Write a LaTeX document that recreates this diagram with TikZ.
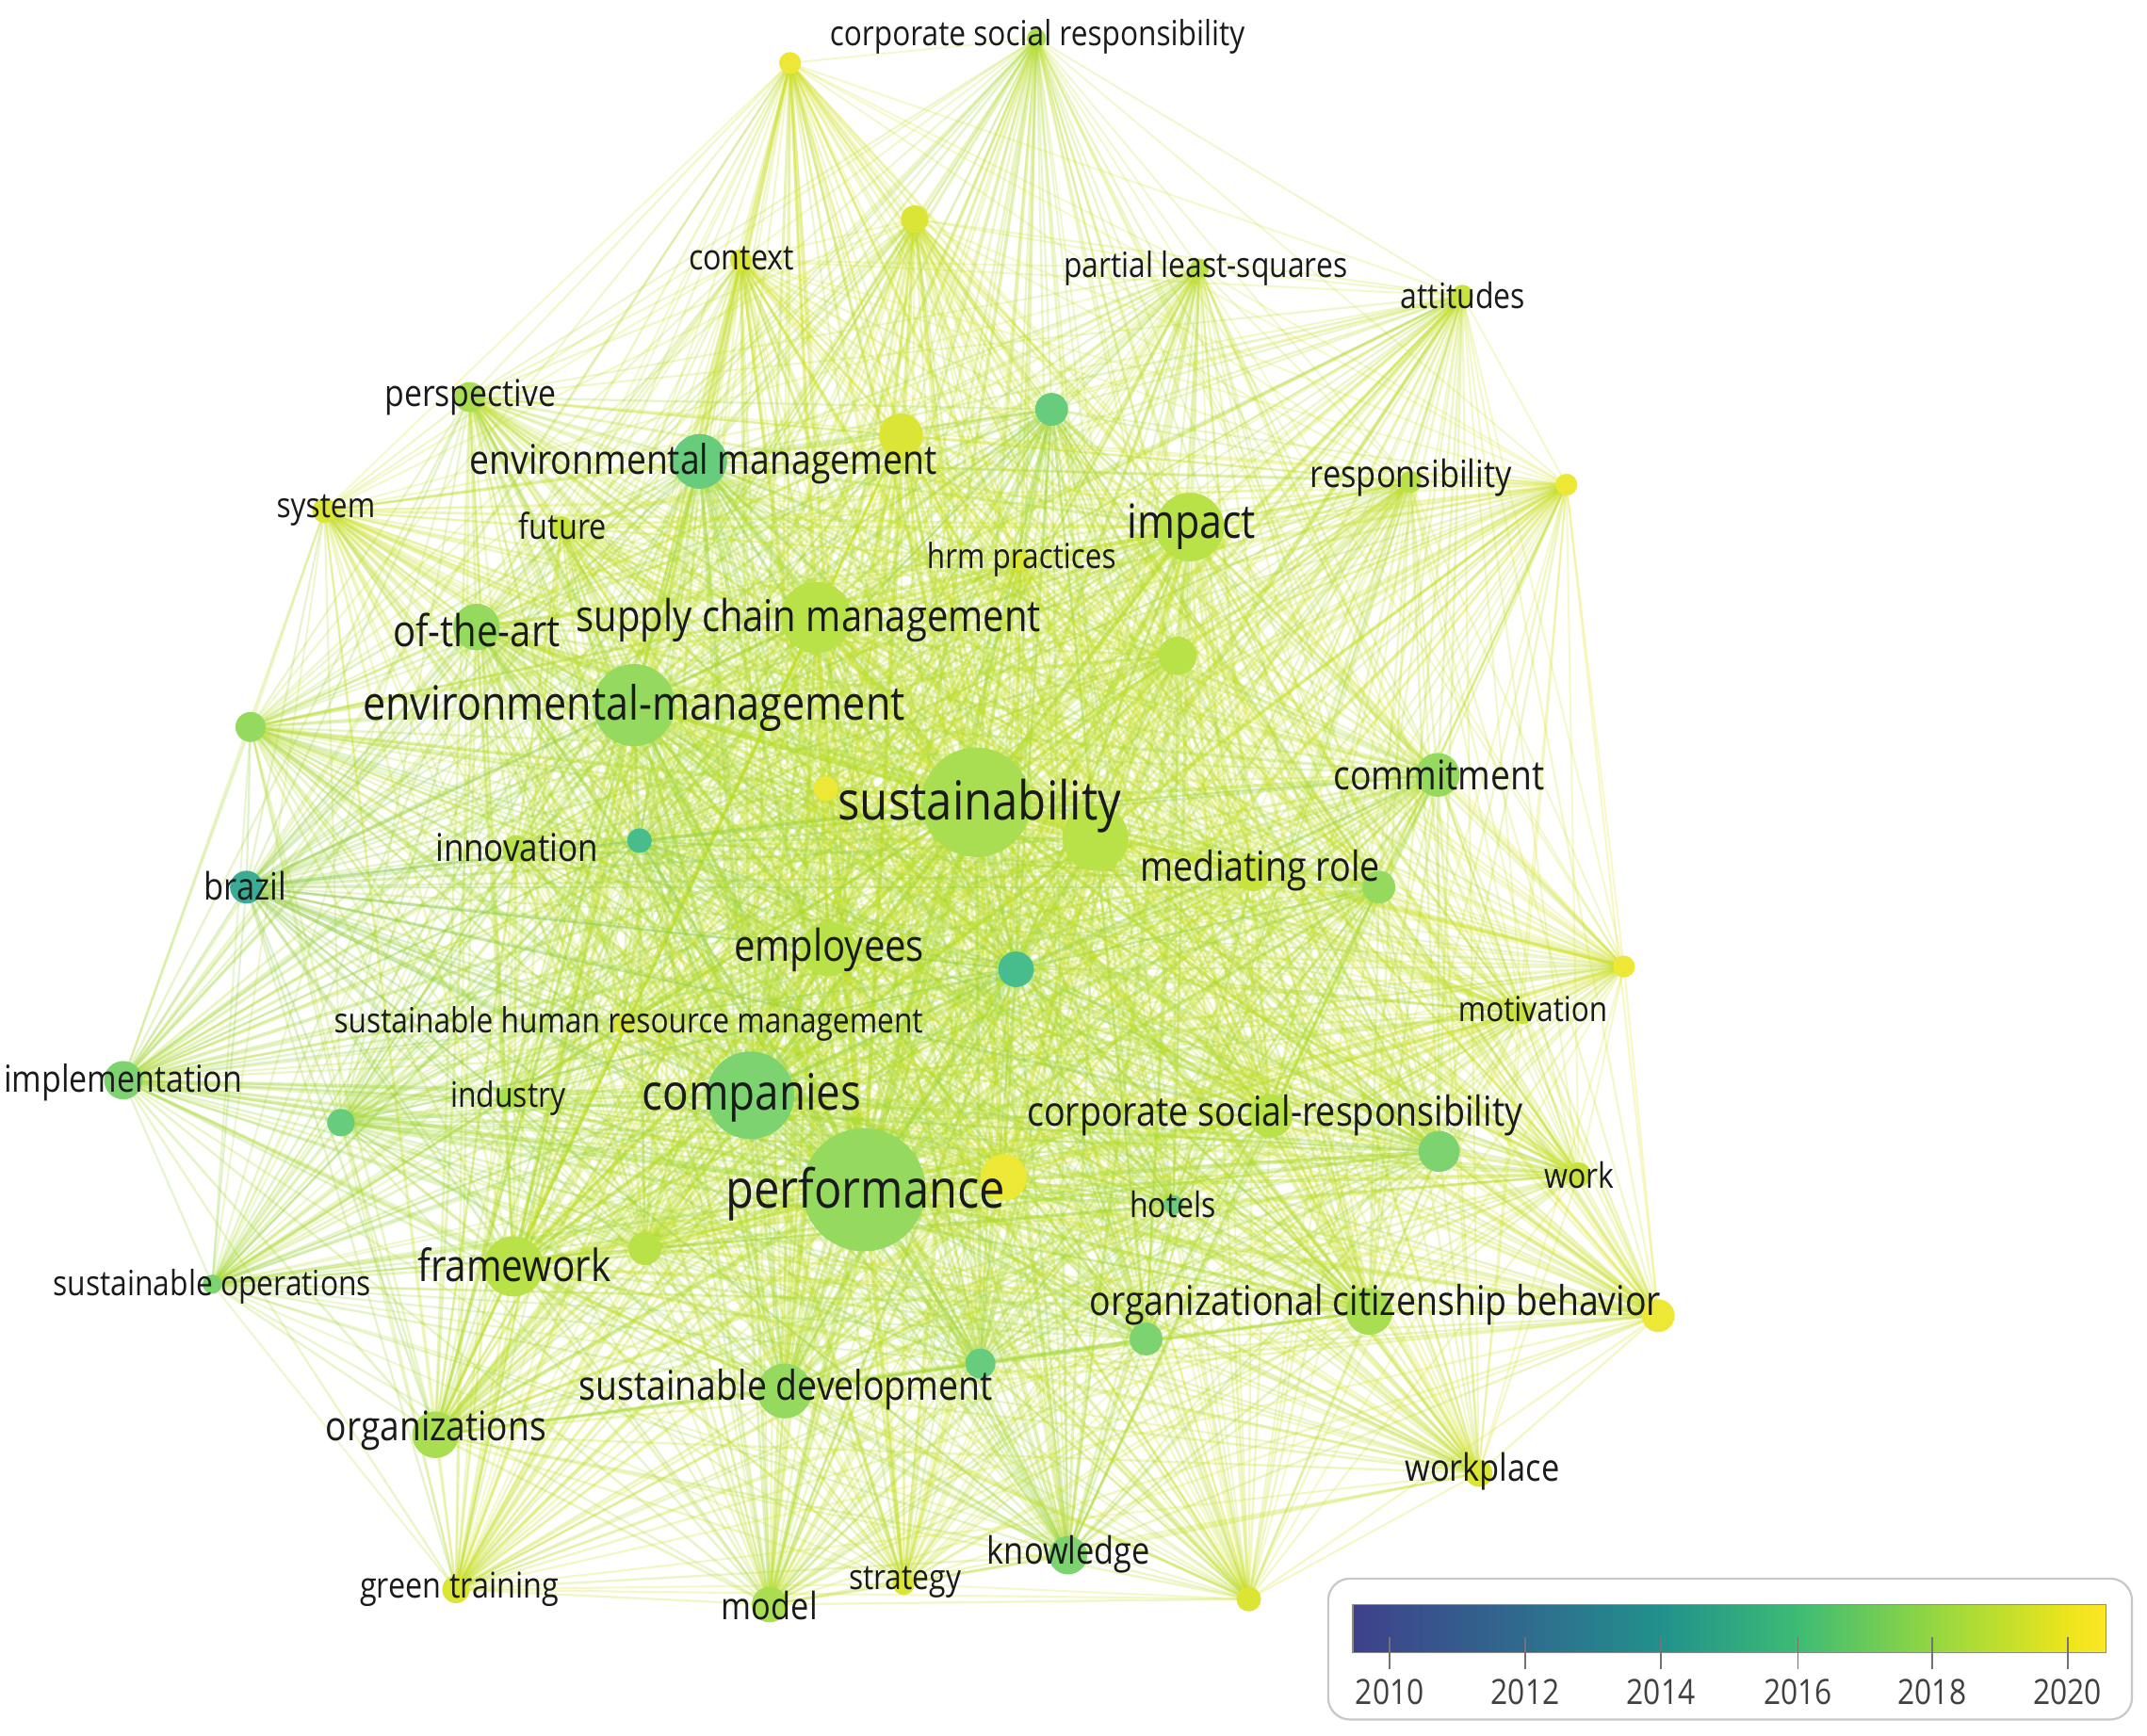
\documentclass[tikz,border=0pt]{standalone}
\usepackage{fontspec}
\usepackage{graphicx}
\newfontfamily\vos[FakeStretch=0.86]{Open Sans}
\definecolor{Y14}{HTML}{1FA188}
\definecolor{Y155}{HTML}{2EB37C}
\definecolor{Y165}{HTML}{52C569}
\definecolor{Y17}{HTML}{6ACD5B}
\definecolor{Y175}{HTML}{86D549}
\definecolor{Y18}{HTML}{9DD93B}
\definecolor{Y185}{HTML}{B0DD2F}
\definecolor{Y19}{HTML}{C2DF23}
\definecolor{Y195}{HTML}{D6E21A}
\definecolor{Y20}{HTML}{EBE51A}
\definecolor{V0}{HTML}{3D418A}
\definecolor{V10}{HTML}{3B4A8C}
\definecolor{V12}{HTML}{2F6B8E}
\definecolor{V14}{HTML}{21918C}
\definecolor{V16}{HTML}{3DBC74}
\definecolor{V18}{HTML}{93D741}
\definecolor{V20}{HTML}{EDE51B}
\definecolor{V21}{HTML}{FDE725}
\definecolor{txt}{HTML}{1A1A1A}
\pgfdeclarelayer{paper}
\pgfdeclarelayer{edges}
\pgfsetlayers{paper,edges,main}
\tikzset{
  kw/.style={circle,inner sep=0pt,draw=none},
  kwlabel/.style={inner sep=0pt,text=txt},
  tick/.style={draw=black!55,line width=1.2pt},
  yearlabel/.style={inner sep=0pt,text=black!75}
}
\begin{document}
\begin{tikzpicture}[x=1pt,y=-1pt]
\useasboundingbox (0,0) rectangle (1568,1268);
\begin{pgfonlayer}{paper}
\fill[white] (0,0) rectangle (1568,1268);
\end{pgfonlayer}
% keyword circles
\foreach \i/\x/\y/\r/\c in {
1/757/28/7/Y18, 2/577/46/8/Y20, 3/668/160/10/Y195, 4/541/190/8/Y195,
5/876/196/7/Y185, 6/1068/216/8/Y19, 7/343/290/11/Y18, 8/768/299/12/Y165,
9/511/337/20/Y165, 10/658/318/16/Y195, 11/1030/352/8/Y185, 12/1144/354/8/Y20,
13/237/373/9/Y195, 14/410/385/8/Y19, 15/869/385/25/Y185, 16/745/410/7/Y195,
17/348/458/17/Y175, 18/596/451/26/Y185, 19/860/479/14/Y185, 20/463/515/30/Y175,
21/183/531/11/Y175, 22/713/586/40/Y18, 23/800/612/24/Y185, 24/603/576/9/Y20,
25/1050/566/16/Y175, 26/377/620/10/Y185, 27/467/614/9/Y155, 28/915/638/13/Y19,
29/1007/648/12/Y175, 30/180/648/12/Y14, 31/605/693/20/Y185, 32/742/708/13/Y155,
33/1186/706/8/Y20, 34/1112/740/8/Y19, 35/455/748/7/Y195, 36/90/789/14/Y17,
37/370/803/8/Y18, 38/249/820/10/Y165, 39/548/800/32/Y17, 40/928/815/16/Y185,
41/1051/841/15/Y17, 42/1153/858/9/Y19, 43/631/869/45/Y175, 44/733/860/17/Y20,
45/857/880/7/Y165, 46/375/925/22/Y185, 47/471/912/12/Y185, 48/155/938/7/Y17,
49/1000/958/17/Y18, 50/1211/961/12/Y20, 51/837/978/12/Y17, 52/573/1016/20/Y175,
53/716/996/11/Y165, 54/318/1048/17/Y18, 55/1080/1076/10/Y195, 56/780/1136/14/Y17,
57/333/1161/10/Y195, 58/562/1172/13/Y18, 59/660/1157/8/Y195, 60/912/1168/9/Y195}{
  \node[kw,fill=\c!88!white,minimum size=2*\r pt] (n\i) at (\x,\y) {};
  \expandafter\xdef\csname nr\i\endcsname{\r}
  \xglobal\colorlet{col\i}{\c}
}
% links
\begin{pgfonlayer}{edges}
\foreach \i in {1,...,59}{
  \pgfmathtruncatemacro\s{\i+1}
  \foreach \j in {\s,...,60}{
    \pgfmathsetmacro\rs{\csname nr\i\endcsname+\csname nr\j\endcsname}
    \pgfmathsetmacro\op{min(0.55,0.17+0.004*\rs)}
    \pgfmathsetmacro\lw{0.9+0.028*\rs}
    \draw[color=col\i!50!col\j!55!Y195,draw opacity=\op,line width=\lw pt] (n\i.center) -- (n\j.center);
  }
}
\end{pgfonlayer}
% labels
\foreach \k/\lx/\ly/\lw/\lab in {
1/757.5/27/303/corporate social responsibility,
4/541.5/189/77/context,
5/880.5/196/207/partial least-squares,
6/1068.5/216/91/attitudes,
7/343.5/290/125/perspective,
9/513.5/339/341/environmental management,
11/1030.5/349/147/responsibility,
13/238/373/72/system,
14/411/384/64/future,
15/870/385/94/impact,
16/746/409/138/hrm practices,
17/348/460/122/of-the-art,
18/590.5/453/339/supply chain management,
20/463/517/396/environmental-management,
22/715.5/589/207/sustainability,
25/1051/566/154/commitment,
26/377.5/619/119/innovation,
28/920.5/636/175/mediating role,
30/179/647/60/brazil,
31/605.5/694/139/employees,
34/1119.5/737/109/motivation,
35/459/748/430/sustainable human resource management,
36/90/791/174/implementation,
37/371/802/84/industry,
39/549/802/160/companies,
40/931/815/362/corporate social-responsibility,
42/1153.5/858/51/work,
43/632/872/204/performance,
45/856.5/880/63/hotels,
46/375.5/924/141/framework,
48/155/940/232/sustainable operations,
49/1004.5/953/417/organizational citizenship behavior,
52/574/1015/302/sustainable development,
54/318.5/1045/161/organizations,
55/1082.5/1075/113/workplace,
56/780.5/1135/119/knowledge,
57/335.5/1161/145/green training,
58/562/1173/70/model,
59/661/1156/82/strategy}{
  \node[kwlabel] (lab\k) at (\lx,\ly) {\resizebox{\lw pt}{!}{\vos \lab}};
}
% legend
\node[draw=black!22,line width=1.5pt,rounded corners=16pt,fill=white,minimum width=587pt,minimum height=103pt,inner sep=0pt] (legend) at (1263.5,1204.5) {};
\coordinate (bl) at (988,1172);
\coordinate (br) at (1538,1207);
\shade[left color=V0,right color=V10] (988,1172) rectangle (1016,1207);
\shade[left color=V10,right color=V12] (1015,1172) rectangle (1115,1207);
\shade[left color=V12,right color=V14] (1114,1172) rectangle (1214,1207);
\shade[left color=V14,right color=V16] (1213,1172) rectangle (1314,1207);
\shade[left color=V16,right color=V18] (1313,1172) rectangle (1412,1207);
\shade[left color=V18,right color=V20] (1411,1172) rectangle (1511,1207);
\shade[left color=V20,right color=V21] (1510,1172) rectangle (1538,1207);
\draw[black!45,line width=1pt] (bl) rectangle (br);
\foreach \yr/\tx in {2010/1015,2012/1114,2014/1213,2016/1313,2018/1411,2020/1510}{
  \draw[tick] (\tx,1196) -- (\tx,1219);
  \node[yearlabel] (yr\yr) at (\tx,1236) {\resizebox{50pt}{!}{\vos \yr}};
}
\end{tikzpicture}
\end{document}
